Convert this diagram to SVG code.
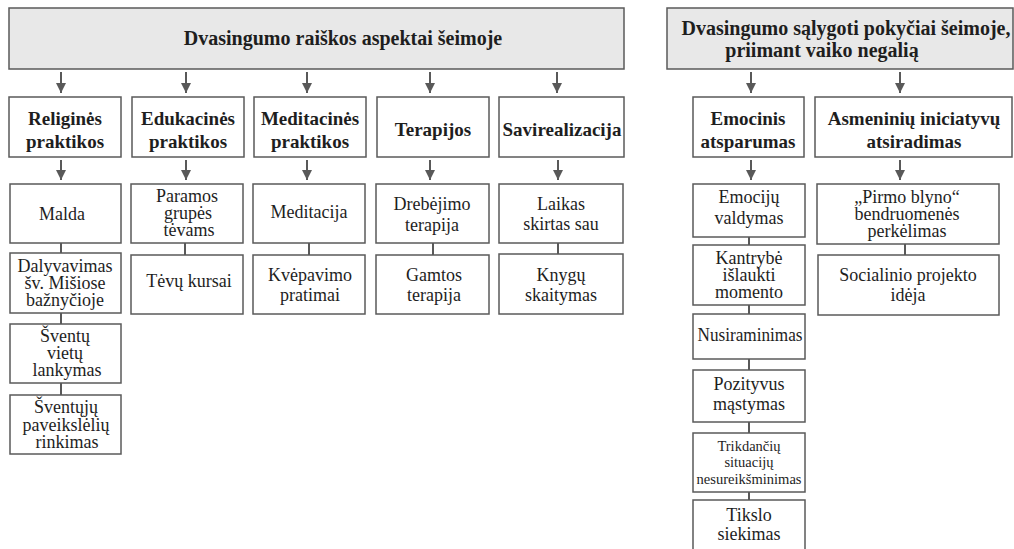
<svg xmlns="http://www.w3.org/2000/svg" width="1014" height="549" viewBox="0 0 1014 549">
<defs>
<marker id="ah" viewBox="0 0 10 10" refX="10" refY="5" markerWidth="10" markerHeight="10" markerUnits="userSpaceOnUse" orient="auto">
<path d="M0,0 L10,5 L0,10 Z" fill="#595959"/>
</marker>
<style>
rect.h{fill:#e8e8e8;stroke:#5a5a5a;stroke-width:1.5}
rect.b{fill:#fff;stroke:#5a5a5a;stroke-width:1.5}
text{fill:#1e1e1e;text-anchor:middle}
.t{font-size:20px;font-weight:bold}
.l1{font-size:19px;font-weight:bold}
.l2{font-size:18px}
.s{font-size:14.5px}
line.a{stroke:#595959;stroke-width:2;marker-end:url(#ah)}
line.c{stroke:#595959;stroke-width:2}
</style>
</defs>
<rect width="1014" height="549" fill="#fff"/>
<g font-family="Liberation Serif, Tinos, Times New Roman, DejaVu Serif, serif">
<g id="connectors">
<line class="a" x1="61" y1="72" x2="61" y2="93"/>
<line class="a" x1="186" y1="72" x2="186" y2="93"/>
<line class="a" x1="307" y1="72" x2="307" y2="93"/>
<line class="a" x1="430" y1="72" x2="430" y2="93"/>
<line class="a" x1="557" y1="72" x2="557" y2="93"/>
<line class="a" x1="751" y1="72" x2="751" y2="93"/>
<line class="a" x1="900" y1="72" x2="900" y2="93"/>
<line class="a" x1="61" y1="160" x2="61" y2="180"/>
<line class="a" x1="186" y1="160" x2="186" y2="180"/>
<line class="a" x1="307" y1="160" x2="307" y2="180"/>
<line class="a" x1="430" y1="160" x2="430" y2="180"/>
<line class="a" x1="558" y1="160" x2="558" y2="180"/>
<line class="a" x1="751" y1="160" x2="751" y2="180"/>
<line class="a" x1="900" y1="160" x2="900" y2="180"/>
<line class="c" x1="61" y1="239" x2="61" y2="257"/>
<line class="c" x1="61" y1="309" x2="61" y2="328"/>
<line class="c" x1="61" y1="379" x2="61" y2="399"/>
<line class="c" x1="185" y1="239" x2="185" y2="258"/>
<line class="c" x1="309" y1="239" x2="309" y2="258"/>
<line class="c" x1="433" y1="239" x2="433" y2="258"/>
<line class="c" x1="558" y1="239" x2="558" y2="258"/>
<line class="c" x1="749" y1="233" x2="749" y2="249"/>
<line class="c" x1="749" y1="301" x2="749" y2="318"/>
<line class="c" x1="749" y1="355" x2="749" y2="374"/>
<line class="c" x1="749" y1="418" x2="749" y2="437"/>
<line class="c" x1="749" y1="488" x2="749" y2="504"/>
<line class="c" x1="905" y1="240" x2="905" y2="259"/>
</g>

<g id="hdr-left">
<rect class="h" x="9" y="8" width="615" height="61"/>
<text class="t" x="343" y="45">Dvasingumo raiškos aspektai šeimoje</text>
</g>
<g id="hdr-right">
<rect class="h" x="667" y="8" width="346" height="61"/>
<text class="t" x="846" y="35">Dvasingumo sąlygoti pokyčiai šeimoje,</text>
<text class="t" x="822" y="57">priimant vaiko negalią</text>
</g>

<g id="religines"><rect class="b" x="9" y="97" width="112" height="60"/><text class="l1" x="65" y="125">Religinės</text><text class="l1" x="65" y="148">praktikos</text></g>
<g id="edukacines"><rect class="b" x="132" y="97" width="112" height="60"/><text class="l1" x="188" y="125">Edukacinės</text><text class="l1" x="188" y="148">praktikos</text></g>
<g id="meditacines"><rect class="b" x="254" y="97" width="112" height="60"/><text class="l1" x="310" y="125">Meditacinės</text><text class="l1" x="310" y="148">praktikos</text></g>
<g id="terapijos"><rect class="b" x="377" y="97" width="112" height="60"/><text class="l1" x="433" y="136">Terapijos</text></g>
<g id="saviraiska"><rect class="b" x="499" y="97" width="125" height="60"/><text class="l1" x="562" y="136">Savirealizacija</text></g>
<g id="emocinis"><rect class="b" x="693" y="97" width="111" height="60"/><text class="l1" x="748" y="125">Emocinis</text><text class="l1" x="748" y="148">atsparumas</text></g>
<g id="asmeniniu"><rect class="b" x="815" y="97" width="197" height="60"/><text class="l1" x="914" y="125">Asmeninių iniciatyvų</text><text class="l1" x="914" y="148">atsiradimas</text></g>

<g id="malda"><rect class="b" x="10" y="184" width="111" height="59"/><text class="l2" x="62" y="220">Malda</text></g>
<g id="dalyvavimas"><rect class="b" x="10" y="253" width="111" height="60"/><text class="l2" x="65" y="272">Dalyvavimas</text><text class="l2" x="65" y="289">šv. Mišiose</text><text class="l2" x="65" y="306">bažnyčioje</text></g>
<g id="sventu"><rect class="b" x="10" y="324" width="111" height="59"/><text class="l2" x="65" y="342">Šventų</text><text class="l2" x="65" y="359">vietų</text><text class="l2" x="67" y="376">lankymas</text></g>
<g id="sventuju"><rect class="b" x="10" y="395" width="111" height="59"/><text class="l2" x="66" y="413">Šventųjų</text><text class="l2" x="66" y="431">paveikslėlių</text><text class="l2" x="67" y="448">rinkimas</text></g>
<g id="paramos"><rect class="b" x="131" y="184" width="112" height="59"/><text class="l2" x="187" y="202">Paramos</text><text class="l2" x="188" y="219">grupės</text><text class="l2" x="189" y="236">tėvams</text></g>
<g id="tevu"><rect class="b" x="131" y="255" width="112" height="59"/><text class="l2" x="189" y="287">Tėvų kursai</text></g>
<g id="meditacija"><rect class="b" x="253" y="184" width="112" height="59"/><text class="l2" x="309" y="218">Meditacija</text></g>
<g id="kvepavimo"><rect class="b" x="253" y="255" width="112" height="59"/><text class="l2" x="310" y="281">Kvėpavimo</text><text class="l2" x="310" y="301">pratimai</text></g>
<g id="drebejimo"><rect class="b" x="376" y="184" width="113" height="59"/><text class="l2" x="432" y="210">Drebėjimo</text><text class="l2" x="432" y="231">terapija</text></g>
<g id="gamtos"><rect class="b" x="376" y="255" width="113" height="59"/><text class="l2" x="434" y="281">Gamtos</text><text class="l2" x="434" y="301">terapija</text></g>
<g id="laikas"><rect class="b" x="499" y="184" width="124" height="59"/><text class="l2" x="561" y="210">Laikas</text><text class="l2" x="561" y="230">skirtas sau</text></g>
<g id="knygu"><rect class="b" x="499" y="254" width="124" height="60"/><text class="l2" x="561" y="281">Knygų</text><text class="l2" x="561" y="301">skaitymas</text></g>

<g id="emociju"><rect class="b" x="693" y="184" width="112" height="53"/><text class="l2" x="749" y="203">Emocijų</text><text class="l2" x="749" y="224">valdymas</text></g>
<g id="kantrybe"><rect class="b" x="693" y="245" width="112" height="60"/><text class="l2" x="749" y="264">Kantrybė</text><text class="l2" x="749" y="281">išlaukti</text><text class="l2" x="749" y="298">momento</text></g>
<g id="nusiraminimas"><rect class="b" x="693" y="314" width="112" height="45"/><text class="l2" x="750" y="341" textLength="105" lengthAdjust="spacingAndGlyphs">Nusiraminimas</text></g>
<g id="pozityvus"><rect class="b" x="693" y="370" width="112" height="52"/><text class="l2" x="749" y="390">Pozityvus</text><text class="l2" x="749" y="410">mąstymas</text></g>
<g id="trikdanciu"><rect class="b" x="693" y="433" width="112" height="59"/><text class="s" x="749" y="451">Trikdančių</text><text class="s" x="749" y="467">situacijų</text><text class="s" x="749" y="484" textLength="105" lengthAdjust="spacingAndGlyphs">nesureikšminimas</text></g>
<g id="tikslo"><rect class="b" x="693" y="500" width="112" height="52"/><text class="l2" x="749" y="521">Tikslo</text><text class="l2" x="749" y="540">siekimas</text></g>
<g id="pirmo"><rect class="b" x="817" y="184" width="182" height="60"/><text class="l2" x="907" y="203">„Pirmo blyno“</text><text class="l2" x="907" y="220">bendruomenės</text><text class="l2" x="907" y="237">perkėlimas</text></g>
<g id="socialinio"><rect class="b" x="818" y="255" width="181" height="60"/><text class="l2" x="908" y="281">Socialinio projekto</text><text class="l2" x="908" y="301">idėja</text></g>
</g>
</svg>
